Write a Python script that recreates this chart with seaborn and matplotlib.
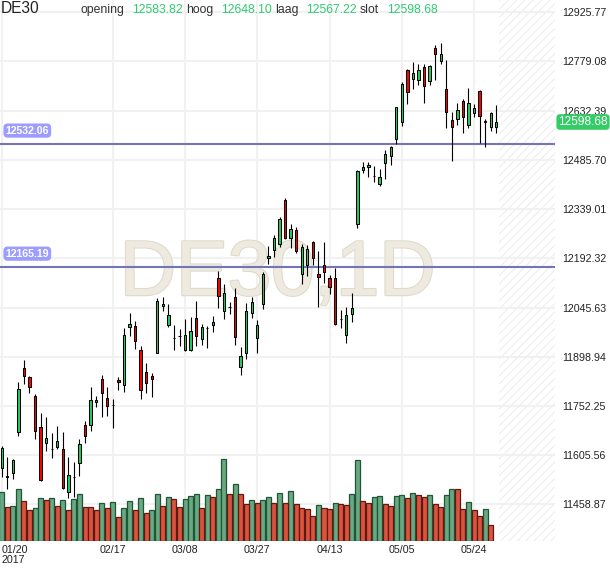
import numpy as np
import pandas as pd
import matplotlib
matplotlib.use("Agg")
import matplotlib.pyplot as plt
import matplotlib.patheffects as pe
import matplotlib.colors as mcolors
import seaborn as sns

# ---------------- data ----------------
symbol = "DE30"
timeframe = "1D"
year_label = "2017"
date_labels = ["01/20", "02/17", "03/08", "03/27", "04/13", "05/05", "05/24"]
date_label_idx = [0, 20, 33, 46, 59, 72, 85]

opens = [11566.2, 11543.0, 11551.3, 11673.5, 11864.4, 11837.5, 11780.9, 11689.3, 11642.5, 11623.5,
         11630.6, 11622.9, 11494.7, 11540.8, 11581.1, 11694.4, 11694.4, 11763.0, 11831.6, 11775.8,
         11755.4, 11829.5, 11813.7, 11986.6, 11989.6, 11918.0, 11854.2, 11842.3, 11910.9, 12049.2,
         11992.6, 11955.2, 11962.1, 11918.0, 11918.0, 12013.4, 11950.8, 11985.0, 11994.4, 12134.5,
         12034.3, 12048.5, 12077.8, 11867.3, 11909.1, 12028.3, 11953.8, 12057.0, 12192.3, 12217.1,
         12235.0, 12365.3, 12252.0, 12275.8, 12145.5, 12171.5, 12240.0, 12144.6, 12171.5, 12132.7,
         12133.6, 12011.8, 11962.7, 12027.1, 12293.7, 12454.7, 12463.6, 12439.1, 12413.0, 12475.0,
         12498.8, 12547.1, 12597.8, 12752.8, 12727.8, 12723.9, 12761.8, 12721.8, 12818.4, 12781.5,
         12696.2, 12603.8, 12606.8, 12661.3, 12590.7, 12626.4, 12690.2, 12600.8, 12584.7, 12583.82]
highs = [11632.7, 11600.8, 11593.9, 11822.6, 11889.1, 11842.3, 11787.7, 11730.2, 11718.3, 11670.6,
         11693.2, 11675.3, 11600.8, 11585.9, 11652.7, 11706.3, 11807.7, 11782.7, 11844.4, 11809.5,
         11772.8, 11837.5, 11983.6, 12028.3, 12005.4, 11930.8, 11881.1, 11851.2, 12073.1, 12077.8,
         12055.2, 11994.4, 11982.4, 12011.3, 12017.3, 12064.1, 11996.4, 11990.5, 12021.2, 12153.6,
         12114.8, 12061.1, 12104.7, 11928.8, 12059.9, 12077.8, 12008.4, 12152.4, 12229.0, 12261.8,
         12316.4, 12371.2, 12294.6, 12286.5, 12234.1, 12231.1, 12244.8, 12214.1, 12240.9, 12142.5,
         12162.5, 12038.2, 12048.0, 12088.0, 12455.6, 12478.5, 12480.3, 12467.5, 12457.7, 12515.2,
         12528.0, 12644.0, 12717.1, 12756.7, 12778.5, 12771.6, 12771.6, 12768.6, 12828.3, 12835.1,
         12783.6, 12629.4, 12654.5, 12666.4, 12699.2, 12652.4, 12694.1, 12606.8, 12627.6, 12648.10]
lows = [11541.2, 11503.6, 11533.4, 11663.4, 11816.7, 11791.6, 11654.5, 11528.0, 11618.7, 11597.8,
        11622.9, 11505.0, 11476.8, 11480.6, 11544.1, 11640.7, 11678.3, 11748.1, 11720.1, 11723.0,
        11687.3, 11799.7, 11794.6, 11961.6, 11921.0, 11771.9, 11789.8, 11777.9, 11909.1, 12036.1,
        11988.4, 11918.0, 11930.8, 11915.9, 11915.0, 11931.7, 11932.9, 11925.8, 11973.5, 12043.2,
        12012.2, 12027.1, 11932.9, 11844.4, 11891.2, 12014.3, 11910.9, 12040.3, 12175.3, 12195.3,
        12225.1, 12251.0, 12222.1, 12207.2, 12114.8, 12139.6, 12171.5, 12046.2, 12117.8, 12085.0,
        11992.6, 11983.6, 11938.9, 12003.3, 12283.6, 12445.8, 12435.6, 12420.7, 12408.8, 12427.3,
        12470.5, 12534.0, 12586.8, 12652.4, 12698.0, 12709.0, 12656.2, 12709.0, 12723.9, 12770.7,
        12581.7, 12483.3, 12589.8, 12566.8, 12580.8, 12612.7, 12537.0, 12525.1, 12572.8, 12567.22]
closes = [11625.8, 11540.0, 11590.1, 11801.7, 11842.3, 11809.5, 11676.5, 11531.0, 11655.7, 11622.5,
          11646.7, 11507.0, 11545.3, 11539.8, 11637.8, 11661.6, 11769.0, 11769.0, 11789.8, 11752.9,
          11754.4, 11822.6, 11962.7, 11995.5, 11944.9, 11798.8, 11819.6, 11831.6, 12064.1, 12055.2,
          12022.4, 11954.2, 11961.1, 11962.7, 11974.7, 11959.8, 11986.6, 11984.0, 12003.3, 12079.0,
          12089.8, 12047.5, 11956.8, 11900.1, 12034.3, 12061.1, 11992.6, 12144.6, 12199.2, 12252.0,
          12308.6, 12254.0, 12278.8, 12214.1, 12226.9, 12220.9, 12194.1, 12135.7, 12151.5, 12105.9,
          11995.5, 12010.8, 12022.4, 12043.2, 12451.7, 12463.6, 12470.5, 12438.1, 12434.7, 12502.7,
          12524.2, 12642.5, 12711.1, 12689.0, 12743.9, 12753.7, 12706.9, 12765.7, 12801.4, 12800.5,
          12627.6, 12584.7, 12633.6, 12614.5, 12654.5, 12639.5, 12617.5, 12598.4, 12624.6, 12598.68]
volumes = [48.7, 33.7, 34.7, 51.7, 39.7, 30.7, 32.7, 42.7, 40.7, 42.7,
           34.7, 40.7, 30.7, 41.7, 46.7, 33.7, 33.7, 30.7, 37.7, 32.7,
           38.7, 23.7, 32.7, 39.7, 30.7, 42.7, 27.7, 30.7, 46.7, 34.7,
           43.7, 41.7, 33.7, 41.7, 44.7, 46.7, 32.7, 45.7, 43.7, 51.7,
           81.7, 46.7, 56.7, 46.7, 36.7, 40.7, 37.7, 40.7, 43.7, 37.7,
           47.7, 37.7, 49.7, 36.7, 32.7, 31.7, 24.7, 35.7, 32.7, 31.7,
           37.7, 36.7, 35.7, 46.7, 80.7, 39.7, 37.7, 43.7, 44.7, 36.7,
           34.7, 44.7, 45.7, 42.7, 47.7, 45.7, 43.7, 45.7, 36.7, 33.7,
           45.7, 51.7, 51.7, 31.7, 38.7, 30.7, 24.7, 31.7, 15.7]
price_ticks = [11458.87, 11605.56, 11752.25, 11898.94, 12045.63, 12192.32,
               12339.01, 12485.70, 12632.39, 12779.08, 12925.77]
level_lines = [12532.06, 12165.19]
header_names = ["opening", "hoog", "laag", "slot"]

# ---------------- style ----------------
sns.set_theme(style="white")
plt.rcParams["font.family"] = ["Liberation Sans", "DejaVu Sans"]
plt.rcParams["hatch.linewidth"] = 0.7

W, H = 610, 568
fig = plt.figure(figsize=(W / 100, H / 100), dpi=100)
ax = fig.add_axes([0, 27 / H, 555 / W, 541 / H])

GREEN_C = "#22cc5e"
RED_C = "#ff0000"
TXT_GREEN = "#2ecc71"

n = len(opens)
df = pd.DataFrame(dict(i=np.arange(n), o=opens, h=highs, l=lows, c=closes))
up = df.c >= df.o

# background: hatched future area + watermark
ax.axvspan(n - 0.5, 100.5, facecolor="white", edgecolor="#ececec",
           hatch="////", lw=0, zorder=0.5)
wm = ax.text(0.5, 0.4547, f"{symbol},{timeframe}", transform=ax.transAxes,
             ha="center", va="baseline", fontsize=56, color="#eeeae0", zorder=0.8)
wm.set_path_effects([pe.withStroke(linewidth=1.8, foreground="#e0dbca"), pe.Normal()])

# level lines
for lv in level_lines:
    ax.axhline(lv, color="#7474bc", lw=1.5, zorder=2)
    ax.annotate(f"{lv:.2f}", xy=(0, lv), xycoords=("axes fraction", "data"),
                xytext=(4.0, 9.9), textcoords="offset points", ha="left", va="center",
                fontsize=7.6, fontweight="bold", color="white", zorder=6,
                bbox=dict(boxstyle="round,pad=0.2,rounding_size=0.4", fc="#9d9dff", ec="none"))

# candles
ax.vlines(df.i, df.l, df.h, color="black", lw=0.8, zorder=3)
ax.bar(df.i, (df.c - df.o).abs(), bottom=np.minimum(df.o, df.c), width=0.42,
       color=np.where(up, GREEN_C, RED_C), edgecolor="black", linewidth=0.75, zorder=4)

# volume (own scale, bottom of panel)
axv = ax.twinx()
vdf = pd.DataFrame(dict(i=np.arange(len(volumes)), v=volumes))
vdf["dir"] = np.where(vdf.v.diff().fillna(1) > 0, "up", "down")
vol_face = {"up": "#69a882", "down": "#d9533e"}
vol_edge = {"up": "#1f5636", "down": "#5e1a12"}
sns.barplot(data=vdf, x="i", y="v", hue="dir", palette=vol_face, dodge=False,
            width=0.9, errorbar=None, legend=False, saturation=1, native_scale=True, ax=axv)
up_rgba = mcolors.to_rgba(vol_face["up"])
for p in axv.patches:
    fc = p.get_facecolor()
    is_up = np.allclose(fc[:3], up_rgba[:3], atol=0.02)
    p.set_edgecolor(vol_edge["up"] if is_up else vol_edge["down"])
    p.set_linewidth(0.9)
axv.set_ylim(0, max(volumes) / 0.151)
axv.set_yticks([])
axv.set_ylabel("")
axv.set_xlabel("")
for s in axv.spines.values():
    s.set_visible(False)

# axes
ax.set_xlim(-0.306, 99.57)
ax.set_ylim(11349.5, 12962.4)
ax.yaxis.tick_right()
ax.set_yticks(price_ticks)
ax.set_yticklabels([f"{t:.2f}" for t in price_ticks])
ax.tick_params(axis="y", length=0, pad=5, labelsize=7.7, labelcolor="#222222")
ax.set_xticks(date_label_idx)
ax.set_xticklabels([date_labels[0] + "\n" + year_label] + date_labels[1:])
ax.tick_params(axis="x", length=0, pad=3, labelsize=7.7, labelcolor="#222222")
first = ax.get_xticklabels()[0]
first.set_ha("left")
first.set_multialignment("left")
for t in ax.get_xticklabels():
    t.set_linespacing(0.95)
ax.grid(True, color="#f1f1f1", lw=1.5)
ax.set_axisbelow(True)
for s in ax.spines.values():
    s.set_visible(False)
ax.set_xlabel("")
ax.set_ylabel("")

# last price badge
ax.annotate(f"{closes[-1]:.2f}", xy=(1, closes[-1]), xycoords=("axes fraction", "data"),
            xytext=(2.3, 0), textcoords="offset points", ha="left", va="center",
            fontsize=8.6, color="white", annotation_clip=False, zorder=10,
            bbox=dict(boxstyle="round,pad=0.15,rounding_size=0.3", fc="#33cc66", ec="none"))

# header
yb = 1 - 13.2 / H
fig.text(0.5 / W, yb, symbol, fontsize=11.2, color="#222222", va="baseline", ha="left")
vals = [opens[-1], highs[-1], lows[-1], closes[-1]]
name_x = [80.7, 186, 275, 360]
val_x = [131.7, 221, 306, 387]
for nm, v, nx, vx in zip(header_names, vals, name_x, val_x):
    fig.text(nx / W, yb, nm, fontsize=8.8, color="#333333", va="baseline", ha="left")
    fig.text(vx / W, yb, f"{v:.2f}", fontsize=8.8, color=TXT_GREEN, va="baseline", ha="left")

fig.savefig("out.png", dpi=100)
